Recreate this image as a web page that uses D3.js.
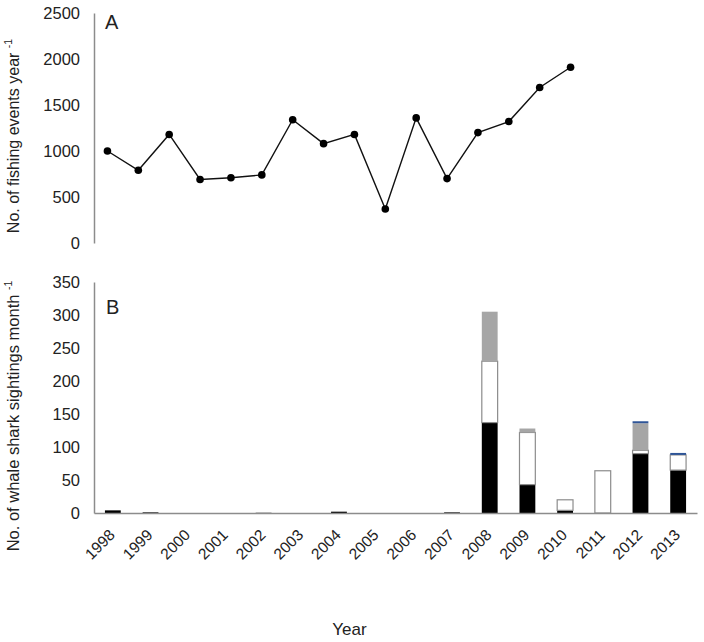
<!DOCTYPE html>
<html><head><meta charset="utf-8">
<script src="https://cdn.jsdelivr.net/npm/d3@7"></script>
<style>body{margin:0;background:#fff}svg{display:block}text{font-family:"Liberation Sans",Arial,sans-serif;fill:#222}</style>
</head><body><div id="chart"></div>
<script>
const years = ["1998","1999","2000","2001","2002","2003","2004","2005","2006","2007","2008","2009","2010","2011","2012","2013"];
const fishingEvents = [1000,790,1180,690,710,740,1340,1080,1180,370,1360,700,1200,1320,1690,1910];
const blackSeries = [4,1,0,0,0,0,2,0,0,1,137,43,4,0,90,65];
const whiteSeries = [0,0,0,0,0,0,0,0,0,0,93,79,16,64,5,23];
const greySeries  = [0,0,0,0,1,0,0,0,0,0,75,6,0,0,41,0];
const blueSeries  = [0,0,0,0,0,0,0,0,0,0,0,0,0,0,3,3];
const ticksA = [0,500,1000,1500,2000,2500];
const ticksB = [0,50,100,150,200,250,300,350];

const W=704,H=642;
const svg=d3.select("#chart").append("svg").attr("width",W).attr("height",H);
const axisCol="#8c8c8c";
const FONT="Liberation Sans, Arial, sans-serif";

// Panel A
const xA=d3.scaleBand().domain(years).range([92,586]);
const yA=d3.scaleLinear().domain([0,2500]).range([243,13]);
const gA=svg.append("g");
gA.append("g").attr("transform","translate(94,0)")
  .call(d3.axisLeft(yA).tickValues(ticksA).tickSize(0).tickPadding(14).tickFormat(d3.format("d")))
  .call(g=>{g.select(".domain").attr("stroke",axisCol).attr("stroke-width",1.5);
    g.selectAll("text").attr("font-size",16.5).attr("font-family",FONT).attr("fill","#222");});
const line=d3.line().x((d,i)=>xA(years[i])+xA.bandwidth()/2).y(d=>yA(d));
gA.append("path").datum(fishingEvents).attr("d",line).attr("fill","none").attr("stroke","#111").attr("stroke-width",1.4);
gA.selectAll("circle").data(fishingEvents).join("circle")
  .attr("cx",(d,i)=>xA(years[i])+xA.bandwidth()/2).attr("cy",d=>yA(d)).attr("r",3.8).attr("fill","#000");
svg.append("text").attr("x",105).attr("y",29).attr("font-size",20).text("A");
const tA=svg.append("text").attr("transform","translate(19,136) rotate(-90)").attr("text-anchor","middle").attr("font-size",16);
tA.append("tspan").text("No. of fishing events year ");
tA.append("tspan").attr("font-size",10.5).attr("dy",-7).text("-1");

// Panel B
const xB=d3.scaleBand().domain(years).range([94,697]).paddingInner(0.58).paddingOuter(0.29);
const yB=d3.scaleLinear().domain([0,350]).range([513,282]);
const keys=["black","white","grey","blue"];
const rows=years.map((y,i)=>({year:y,black:blackSeries[i],white:whiteSeries[i],grey:greySeries[i],blue:blueSeries[i]}));
const stack=d3.stack().keys(keys)(rows);
const fills={black:"#000",white:"#fff",grey:"#a6a6a6",blue:"#2f5597"};
const strokes={black:"none",white:"#8c8c8c",grey:"none",blue:"none"};
const gB=svg.append("g");
stack.forEach(layer=>{
  gB.append("g").selectAll("rect").data(layer.filter(d=>d[1]-d[0]>0)).join("rect")
    .attr("x",d=>xB(d.data.year)).attr("width",xB.bandwidth())
    .attr("y",d=>yB(d[1])).attr("height",d=>Math.max(1,yB(d[0])-yB(d[1])))
    .attr("fill",fills[layer.key]).attr("stroke",strokes[layer.key]).attr("stroke-width",1.2);
});
gB.append("g").attr("transform","translate(94,0)")
  .call(d3.axisLeft(yB).tickValues(ticksB).tickSize(0).tickPadding(14))
  .call(g=>{g.select(".domain").attr("stroke",axisCol).attr("stroke-width",1.5);
    g.selectAll("text").attr("font-size",16.5).attr("font-family",FONT).attr("fill","#222");});
gB.append("g").attr("transform","translate(0,513)")
  .call(d3.axisBottom(xB).tickSize(0).tickPadding(0))
  .call(g=>{g.select(".domain").attr("stroke",axisCol).attr("stroke-width",1.5);
    g.selectAll("text").attr("font-size",15.5).attr("font-family",FONT).attr("fill","#222")
      .attr("text-anchor","end").attr("dy",0).attr("y",0).attr("transform","translate(3,23) rotate(-45)");});
svg.append("text").attr("x",106).attr("y",314).attr("font-size",20).text("B");
const tB=svg.append("text").attr("transform","translate(19,416) rotate(-90)").attr("text-anchor","middle").attr("font-size",16.5);
tB.append("tspan").text("No. of whale shark sightings month ");
tB.append("tspan").attr("font-size",10.5).attr("dy",-7).text("-1");
svg.append("text").attr("x",349.5).attr("y",635).attr("text-anchor","middle").attr("font-size",17).text("Year");
</script></body></html>
